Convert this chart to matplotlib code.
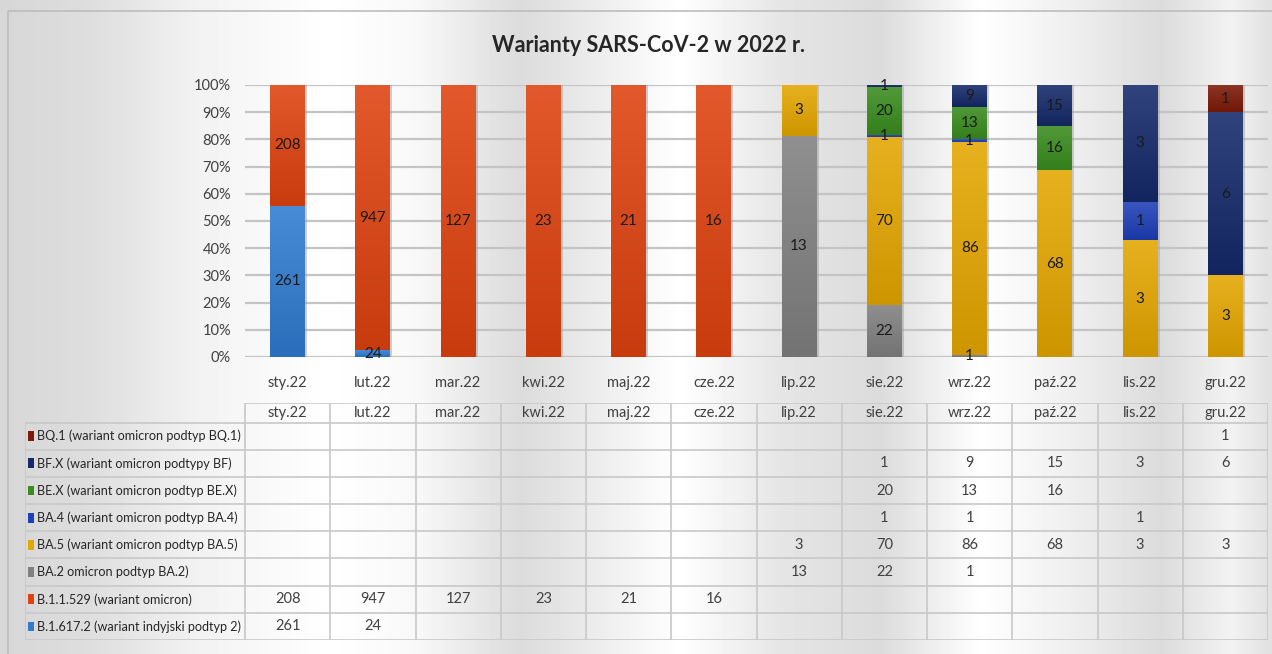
import numpy as np
import matplotlib.pyplot as plt
from matplotlib.patches import Rectangle
from matplotlib.colors import to_rgb

plt.rcParams['font.family'] = ['Lato', 'DejaVu Sans']

# dane
miesiace = ['sty.22', 'lut.22', 'mar.22', 'kwi.22', 'maj.22', 'cze.22',
            'lip.22', 'sie.22', 'wrz.22', 'paź.22', 'lis.22', 'gru.22']

b16172 = [261, 24, 0, 0, 0, 0, 0, 0, 0, 0, 0, 0]
b11529 = [208, 947, 127, 23, 21, 16, 0, 0, 0, 0, 0, 0]
ba2 = [0, 0, 0, 0, 0, 0, 13, 22, 1, 0, 0, 0]
ba5 = [0, 0, 0, 0, 0, 0, 3, 70, 86, 68, 3, 3]
ba4 = [0, 0, 0, 0, 0, 0, 0, 1, 1, 0, 1, 0]
bex = [0, 0, 0, 0, 0, 0, 0, 20, 13, 16, 0, 0]
bfx = [0, 0, 0, 0, 0, 0, 0, 1, 9, 15, 3, 6]
bq1 = [0, 0, 0, 0, 0, 0, 0, 0, 0, 0, 0, 1]

nazwy = ['B.1.617.2 (wariant indyjski podtyp 2)', 'B.1.1.529 (wariant omicron)',
         'BA.2 omicron podtyp BA.2)', 'BA.5 (wariant omicron podtyp BA.5)',
         'BA.4 (wariant omicron podtyp BA.4)', 'BE.X (wariant omicron podtyp BE.X)',
         'BF.X (wariant omicron podtypy BF)', 'BQ.1 (wariant omicron podtyp BQ.1)']
serie = [b16172, b11529, ba2, ba5, ba4, bex, bfx, bq1]
kolory = ['#2F7BD0', '#DE420F', '#808080', '#E4A600', '#1E3FB8', '#3A8C1E', '#15296A', '#7D1A08']

W, H = 1272, 654
fig = plt.figure(figsize=(W / 100, H / 100), dpi=100)

# tlo metaliczne (pasy pionowe)
bg = fig.add_axes([0, 0, 1, 1], zorder=-10)
px = [0, 90, 200, 330, 420, 520, 600, 680, 780, 880, 980, 1080, 1160, 1230, 1272]
gv = [0.84, 0.87, 0.95, 1.0, 0.97, 0.86, 0.93, 1.0, 0.9, 0.86, 1.0, 0.93, 0.86, 0.95, 0.88]
pas = np.interp(np.arange(W), px, gv)
img = np.tile(pas, (H, 1))
bg.imshow(img, cmap='gray', vmin=0, vmax=1, aspect='auto', extent=[0, W, H, 0])
bg.add_patch(Rectangle((8, 11), W, H, fill=False, ec='#BDBDBD', lw=1.2))
bg.set_xlim(0, W)
bg.set_ylim(H, 0)
bg.axis('off')

fig.text(648 / W, 1 - 45 / H, 'Warianty SARS-CoV-2 w 2022 r.', ha='center', va='center',
         fontsize=15.5, fontweight='bold', color='#262626')

# wykres slupkowy 100%
ax = fig.add_axes([245 / W, 1 - 357 / H, (1268 - 245) / W, 272 / H])
ax.patch.set_alpha(0)
x = np.arange(len(miesiace))
dane = np.array(serie, dtype=float)
proc = dane / dane.sum(axis=0) * 100
szer = 0.41


def gradient(kolor, n=64):
    c = np.array(to_rgb(kolor))
    t = np.linspace(0, 1, n)[:, None]
    gora = c + (1 - c) * 0.12
    dol_ = c * 0.9
    return (gora * (1 - t) + dol_ * t)[:, None, :]


dol = np.zeros(len(miesiace))
for i, (p, k) in enumerate(zip(proc, kolory)):
    bary = ax.bar(x, p, szer, bottom=dol, color=k, zorder=3)
    for j, b in enumerate(bary):
        if p[j] > 0:
            ax.imshow(gradient(k), extent=[b.get_x(), b.get_x() + szer, dol[j], dol[j] + p[j]],
                      aspect='auto', origin='upper', zorder=3.5, interpolation='bilinear')
            # cien
            ax.add_patch(Rectangle((b.get_x() + szer, dol[j]), 0.025, p[j], color='#A0A0A0',
                                   alpha=0.5, lw=0, zorder=2.5))
    for j in range(len(miesiace)):
        if dane[i, j] > 0:
            ax.text(x[j], dol[j] + p[j] / 2, f'{int(dane[i, j])}', ha='center', va='center',
                    fontsize=11, color='#1A1A1A', zorder=5)
    dol += p

ax.set_xlim(-0.5, len(miesiace) - 0.5)
ax.set_ylim(0, 100)
ax.set_yticks(np.arange(0, 101, 10))
ax.set_yticklabels([f'{v}%' for v in range(0, 101, 10)], fontsize=10.5, color='#404040')
ax.set_xticks(x)
ax.set_xticklabels(miesiace, fontsize=10.5, color='#404040')
ax.tick_params(length=0, pad=10)
ax.tick_params(axis='x', pad=14)
ax.grid(axis='y', color='#C4C4C4', lw=1.6, zorder=0)
for s in ax.spines.values():
    s.set_visible(False)

# tabela danych
ta = fig.add_axes([25 / W, 1 - 640 / H, (1268 - 25) / W, (640 - 403) / H])
ta.patch.set_alpha(0)
lewy = -0.5 - 220 / 85.25
ta.set_xlim(lewy, len(miesiace) - 0.5)
top = 8 + 0.72
ta.set_ylim(0, top)
ta.axis('off')
lc = '#C8C8C8'
ta.hlines([top], -0.5, 11.5, color=lc, lw=1.2)
for j in range(len(miesiace) + 1):
    ta.vlines(j - 0.5, 0, top, color=lc, lw=1.2)
ta.vlines(lewy, 0, 8, color=lc, lw=1.2)
for r in range(9):
    ta.hlines(r, lewy, 11.5, color=lc, lw=1.2)
for j, m in enumerate(miesiace):
    ta.text(j, 8 + 0.36, m, ha='center', va='center', fontsize=10.5, color='#404040')
for i in range(len(serie)):
    y = i + 0.5
    ta.add_patch(Rectangle((lewy + 0.04, y - 0.18), 0.07, 0.36, color=kolory[i], lw=0))
    ta.text(lewy + 0.14, y, nazwy[i], ha='left', va='center', fontsize=9.1, color='#262626')
    for j in range(len(miesiace)):
        if serie[i][j] > 0:
            ta.text(j, y, str(serie[i][j]), ha='center', va='center', fontsize=10.5, color='#404040')

fig.savefig('out.png', dpi=100)
